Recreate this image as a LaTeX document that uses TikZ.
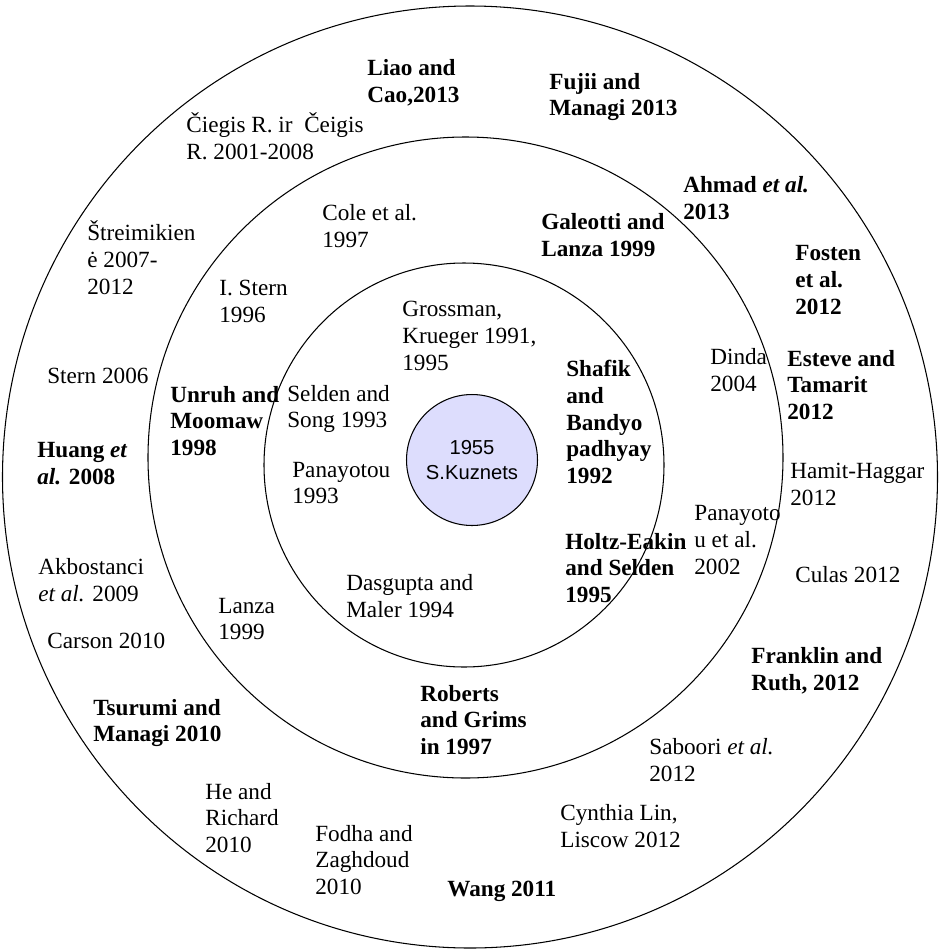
\documentclass[tikz,border=0pt]{standalone}
\usepackage{fontspec}
\setmainfont{Liberation Serif}
\setsansfont{Liberation Sans}
\definecolor{kuznets}{RGB}{221,221,253}

\begin{document}
\begin{tikzpicture}[x=0.02cm,y=-0.02cm,
  ring/.style={draw=black,line width=0.6pt},
  ref/.style={anchor=west,align=left,inner sep=0pt,font=\fontsize{13.2}{15.3}\selectfont},
  keyref/.style={ref,font=\fontsize{13.2}{15.3}\selectfont\bfseries}]
\useasboundingbox (0,0) rectangle (939,951);
\coordinate (outer) at (470,477);
\coordinate (middle) at (465.5,457.5);
\coordinate (inner) at (464,465);
\draw[ring] (outer) ellipse [x radius=467.5,y radius=471];
\draw[ring] (middle) ellipse [x radius=317.5,y radius=320.5];
\draw[ring] (inner) ellipse [x radius=200,y radius=202];
\node[circle,draw,line width=0.6pt,fill=kuznets,minimum size=2.62cm,inner sep=0pt,
  align=center,font=\sffamily\fontsize{11.5}{14.2}\selectfont] (kuznets) at (472,460) {1955\\S.Kuznets};
% inner ring
\node[ref] (grossman) at (402,336) {Grossman,\\Krueger 1991,\\1995};
\node[keyref] (shafik) at (566,422) {Shafik\\and\\Bandyo\\padhyay\\1992};
\node[ref] (selden) at (287,409) {Selden and\\Song 1993};
\node[ref] (panayotou93) at (292,483) {Panayotou\\1993};
\node[keyref] (holtz) at (565,568) {Holtz-Eakin\\and Selden\\1995};
\node[ref] (dasgupta) at (346,596) {Dasgupta and\\Maler 1994};
% middle ring
\node[ref] (cole) at (322,226) {Cole et al.\\1997};
\node[keyref] (galeotti) at (541,235) {Galeotti and\\Lanza 1999};
\node[ref] (istern) at (219,301) {I. Stern\\1996};
\node[ref] (dinda) at (710,370) {Dinda\\2004};
\node[keyref] (unruh) at (170,421) {Unruh and\\Moomaw\\1998};
\node[ref] (panayotou02) at (694,540) {Panayoto\\u et al.\\2002};
\node[ref] (lanza) at (218,619) {Lanza\\1999};
\node[keyref] (roberts) at (420,720) {Roberts\\and Grims\\in 1997};
% outer ring
\node[keyref] (liao) at (367,83) {Liao and\\Cao,2013};
\node[keyref] (fujii) at (549,97) {Fujii and\\Managi 2013};
\node[ref] (ciegis) at (186,136) {Čiegis R. ir\ \ Čeigis\\R. 2001-2008};
\node[keyref] (ahmad) at (683,198) {Ahmad \textit{et al.}\\2013};
\node[keyref] (fosten) at (795,280) {Fosten\\et al.\\2012};
\node[keyref] (esteve) at (787,385) {Esteve and\\Tamarit\\2012};
\node[ref] (hamit) at (790,484) {Hamit-Haggar\\2012};
\node[ref] (culas) at (795,575) {Culas 2012};
\node[keyref] (franklin) at (751,671) {Franklin and\\Ruth, 2012};
\node[ref] (saboori) at (649,760) {Saboori \textit{et al.}\\2012};
\node[ref] (cynthia) at (560,826) {Cynthia Lin,\\Liscow 2012};
\node[keyref] (wang) at (447,891) {Wang 2011};
\node[ref] (fodha) at (315,860) {Fodha and\\Zaghdoud\\2010};
\node[ref] (he) at (205,818) {He and\\Richard\\2010};
\node[keyref] (tsurumi) at (93,723) {Tsurumi and\\Managi 2010};
\node[ref] (carson) at (47,641) {Carson 2010};
\node[ref] (akbostanci) at (38,580) {Akbostanci\\\textit{et al.} 2009};
\node[keyref] (huang) at (37,464) {Huang \textit{et}\\\textit{al.} 2008};
\node[ref] (stern) at (47,376) {Stern 2006};
\node[ref] (streimikiene) at (87,258) {Štreimikien\\ė 2007-\\2012};
\end{tikzpicture}
\end{document}
